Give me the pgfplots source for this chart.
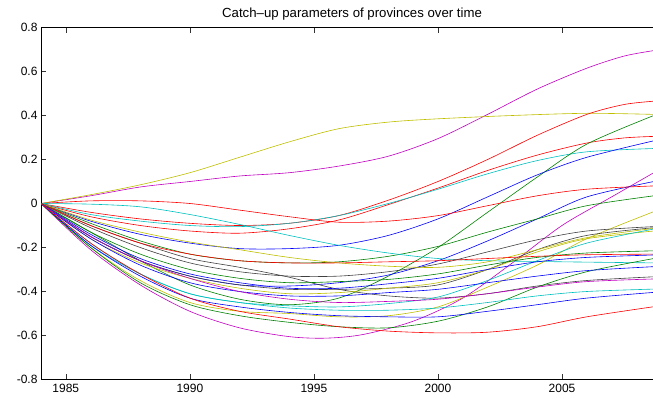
\documentclass[border=0pt]{standalone}
\usepackage{fontspec}
\setmainfont{Liberation Sans}
\usepackage{pgfplots}
\pgfplotsset{compat=1.18}
\definecolor{mb}{rgb}{0,0,1}
\definecolor{mg}{rgb}{0,0.5,0}
\definecolor{mr}{rgb}{1,0,0}
\definecolor{mc}{rgb}{0,0.75,0.75}
\definecolor{mm}{rgb}{0.75,0,0.75}
\definecolor{my}{rgb}{0.75,0.75,0}
\definecolor{mk}{rgb}{0.25,0.25,0.25}
\pgfplotsset{ln/.style={line width=0.6pt, smooth, #1}}
\begin{document}
\begin{tikzpicture}
\begin{axis}[
  width=613.5pt, height=352pt, scale only axis,
  xmin=1984, xmax=2008.728, ymin=-0.8, ymax=0.8,
  clip mode=individual,
  axis line style={line width=0.8pt, black},
  xtick pos=both, ytick pos=left,
  xtick={1985,1990,1995,2000,2005},
  xticklabels={1985,1990,1995,2000,2005},
  ytick={-0.8,-0.6,-0.4,-0.2,0,0.2,0.4,0.6,0.8},
  yticklabels={-0.8,-0.6,-0.4,-0.2,0,0.2,0.4,0.6,0.8},
  tick align=inside, major tick length=5.5pt,
  tick style={line width=0.6pt, black!80},
  tick label style={font=\fontsize{12}{14}\selectfont},
  xticklabel style={yshift=-1.5pt},
]
% top magenta
\addplot[ln=mm] coordinates {(1984,0) (1986,0.035) (1988,0.075) (1990,0.1) (1992,0.125) (1994,0.14) (1996,0.17) (1998,0.215) (2000,0.295) (2002,0.405) (2004,0.52) (2006,0.615) (2007.5,0.67) (2008.7,0.695)};
% top yellow
\addplot[ln=my] coordinates {(1984,0) (1986,0.04) (1988,0.085) (1990,0.14) (1992,0.21) (1994,0.28) (1996,0.34) (1998,0.37) (2000,0.385) (2003,0.40) (2006,0.41) (2008.7,0.405)};
% red C
\addplot[ln=mr] coordinates {(1984,0) (1986,-0.04) (1988,-0.07) (1990,-0.09) (1992,-0.1) (1994,-0.09) (1996,-0.055) (1998,0.015) (2000,0.1) (2002,0.2) (2004,0.31) (2006,0.405) (2007.5,0.45) (2008.7,0.465)};
% red E
\addplot[ln=mr] coordinates {(1984,0) (1986,-0.06) (1988,-0.1) (1990,-0.125) (1992,-0.135) (1994,-0.115) (1996,-0.075) (1998,-0.005) (2000,0.07) (2002,0.15) (2004,0.22) (2006,0.275) (2007.5,0.298) (2008.7,0.305)};
% cyan D
\addplot[ln=mc] coordinates {(1984,0) (1986,-0.05) (1988,-0.08) (1990,-0.1) (1992,-0.105) (1994,-0.09) (1996,-0.055) (1998,0.0) (2000,0.065) (2002,0.135) (2004,0.195) (2006,0.235) (2008.7,0.25)};
% green G
\addplot[ln=mg] coordinates {(1984,0) (1986,-0.13) (1988,-0.26) (1990,-0.37) (1992,-0.435) (1994,-0.46) (1996,-0.43) (1998,-0.33) (2000,-0.2) (2002,-0.04) (2004,0.12) (2006,0.27) (2008.7,0.40)};
% blue F
\addplot[ln=mb] coordinates {(1984,0) (1986,-0.08) (1988,-0.14) (1990,-0.18) (1992,-0.205) (1994,-0.205) (1996,-0.19) (1998,-0.145) (2000,-0.07) (2002,0.03) (2004,0.13) (2006,0.21) (2008.7,0.285)};
% magenta H
\addplot[ln=mm] coordinates {(1984,0) (1986,-0.21) (1988,-0.37) (1990,-0.49) (1992,-0.565) (1994,-0.605) (1995.5,-0.612) (1997,-0.595) (1999,-0.535) (2001,-0.43) (2003,-0.27) (2005,-0.1) (2007,0.03) (2008.7,0.14)};
% blue I
\addplot[ln=mb] coordinates {(1984,0) (1986,-0.15) (1988,-0.26) (1990,-0.33) (1992,-0.37) (1994,-0.375) (1996,-0.36) (1998,-0.325) (2000,-0.26) (2002,-0.17) (2004,-0.07) (2006,0.03) (2008.7,0.10)};
% red A
\addplot[ln=mr] coordinates {(1984,0) (1986,0.012) (1988,0.012) (1990,0) (1992,-0.03) (1994,-0.06) (1996,-0.085) (1998,-0.08) (2000,-0.055) (2002,-0.01) (2004,0.035) (2006,0.065) (2008.7,0.08)};
% green J
\addplot[ln=mg] coordinates {(1984,0) (1986,-0.09) (1988,-0.17) (1990,-0.23) (1992,-0.26) (1994,-0.27) (1996,-0.265) (1998,-0.24) (2000,-0.195) (2002,-0.13) (2004,-0.07) (2006,-0.01) (2008.7,0.035)};
% cyan B
\addplot[ln=mc] coordinates {(1984,0) (1986,-0.003) (1988,-0.015) (1990,-0.05) (1992,-0.095) (1994,-0.145) (1996,-0.19) (1998,-0.225) (2000,-0.25) (2002,-0.26) (2005,-0.265) (2008.7,-0.27)};
% yellow P
\addplot[ln=my] coordinates {(1984,0) (1986,-0.2) (1988,-0.35) (1990,-0.45) (1992,-0.49) (1994,-0.5) (1996,-0.515) (1998,-0.51) (2000,-0.47) (2002,-0.38) (2004,-0.28) (2006,-0.16) (2008.7,-0.037)};
% black M
\addplot[ln=mk] coordinates {(1984,0) (1986,-0.11) (1988,-0.2) (1990,-0.27) (1992,-0.31) (1994,-0.33) (1996,-0.33) (1998,-0.31) (2000,-0.275) (2002,-0.22) (2004,-0.165) (2006,-0.125) (2008.7,-0.105)};
% black M2
\addplot[ln=mk] coordinates {(1984,0) (1986,-0.15) (1988,-0.26) (1990,-0.33) (1992,-0.37) (1994,-0.39) (1996,-0.39) (1998,-0.385) (2000,-0.37) (2002,-0.3) (2004,-0.21) (2006,-0.145) (2008.7,-0.11)};
% black N
\addplot[ln=mk] coordinates {(1984,0) (1986,-0.1) (1988,-0.18) (1990,-0.25) (1992,-0.29) (1994,-0.335) (1996,-0.39) (1998,-0.42) (2000,-0.43) (2002,-0.41) (2004,-0.375) (2006,-0.35) (2008.7,-0.333)};
% yellow K
\addplot[ln=my] coordinates {(1984,0) (1986,-0.075) (1988,-0.13) (1990,-0.175) (1992,-0.21) (1994,-0.245) (1996,-0.27) (1998,-0.285) (2000,-0.29) (2002,-0.265) (2004,-0.21) (2006,-0.155) (2008.7,-0.113)};
% yellow K2
\addplot[ln=my] coordinates {(1984,0) (1986,-0.16) (1988,-0.27) (1990,-0.34) (1992,-0.385) (1994,-0.41) (1996,-0.405) (1998,-0.385) (2000,-0.36) (2002,-0.3) (2004,-0.22) (2006,-0.16) (2008.7,-0.125)};
% cyan Q
\addplot[ln=mc] coordinates {(1984,0) (1986,-0.19) (1988,-0.32) (1990,-0.41) (1992,-0.45) (1994,-0.465) (1996,-0.47) (1998,-0.455) (2000,-0.425) (2002,-0.35) (2004,-0.26) (2006,-0.18) (2008.7,-0.116)};
% green R
\addplot[ln=mg] coordinates {(1984,0) (1986,-0.13) (1988,-0.23) (1990,-0.3) (1992,-0.34) (1994,-0.36) (1996,-0.355) (1998,-0.345) (2000,-0.32) (2002,-0.28) (2004,-0.245) (2006,-0.225) (2008.7,-0.215)};
% red L
\addplot[ln=mr] coordinates {(1984,0) (1986,-0.1) (1988,-0.18) (1990,-0.23) (1992,-0.26) (1994,-0.27) (1996,-0.27) (1998,-0.265) (2000,-0.26) (2002,-0.25) (2004,-0.24) (2006,-0.233) (2008.7,-0.23)};
% blue S
\addplot[ln=mb] coordinates {(1984,0) (1986,-0.14) (1988,-0.25) (1990,-0.32) (1992,-0.36) (1994,-0.385) (1996,-0.385) (1998,-0.365) (2000,-0.34) (2002,-0.3) (2004,-0.265) (2006,-0.245) (2008.7,-0.234)};
% green T
\addplot[ln=mg] coordinates {(1984,0) (1986,-0.2) (1988,-0.36) (1990,-0.46) (1992,-0.51) (1994,-0.54) (1996,-0.56) (1998,-0.565) (2000,-0.535) (2002,-0.47) (2004,-0.38) (2006,-0.31) (2008.7,-0.25)};
% blue U
\addplot[ln=mb] coordinates {(1984,0) (1986,-0.16) (1988,-0.28) (1990,-0.36) (1992,-0.4) (1994,-0.42) (1996,-0.42) (1998,-0.405) (2000,-0.39) (2002,-0.36) (2004,-0.33) (2006,-0.305) (2008.7,-0.287)};
% magenta W
\addplot[ln=mm] coordinates {(1984,0) (1986,-0.15) (1988,-0.26) (1990,-0.34) (1992,-0.4) (1994,-0.435) (1996,-0.45) (1998,-0.445) (2000,-0.435) (2002,-0.41) (2004,-0.38) (2006,-0.355) (2008.7,-0.343)};
% cyan X
\addplot[ln=mc] coordinates {(1984,0) (1986,-0.18) (1988,-0.32) (1990,-0.41) (1992,-0.45) (1994,-0.475) (1996,-0.485) (1998,-0.485) (2000,-0.475) (2002,-0.45) (2004,-0.42) (2006,-0.4) (2008.7,-0.389)};
% blue V
\addplot[ln=mb] coordinates {(1984,0) (1986,-0.19) (1988,-0.33) (1990,-0.43) (1992,-0.47) (1994,-0.495) (1996,-0.51) (1998,-0.515) (2000,-0.515) (2002,-0.49) (2004,-0.46) (2006,-0.43) (2008.7,-0.404)};
% red Y
\addplot[ln=mr] coordinates {(1984,0) (1986,-0.18) (1988,-0.32) (1990,-0.43) (1992,-0.49) (1994,-0.525) (1996,-0.56) (1998,-0.58) (2000,-0.588) (2002,-0.585) (2004,-0.56) (2006,-0.515) (2008.7,-0.469)};
\node[anchor=base, yshift=10.5pt, font=\fontsize{13.2}{15}\selectfont] at (rel axis cs:0.507,1) {Catch–up parameters of provinces over time};
\end{axis}
\pgfresetboundingbox
\path[use as bounding box] ([xshift=-41pt,yshift=-18.5pt]current axis.south west) rectangle ([xshift=-1.5pt,yshift=27.5pt]current axis.north east);
\end{tikzpicture}
\end{document}
